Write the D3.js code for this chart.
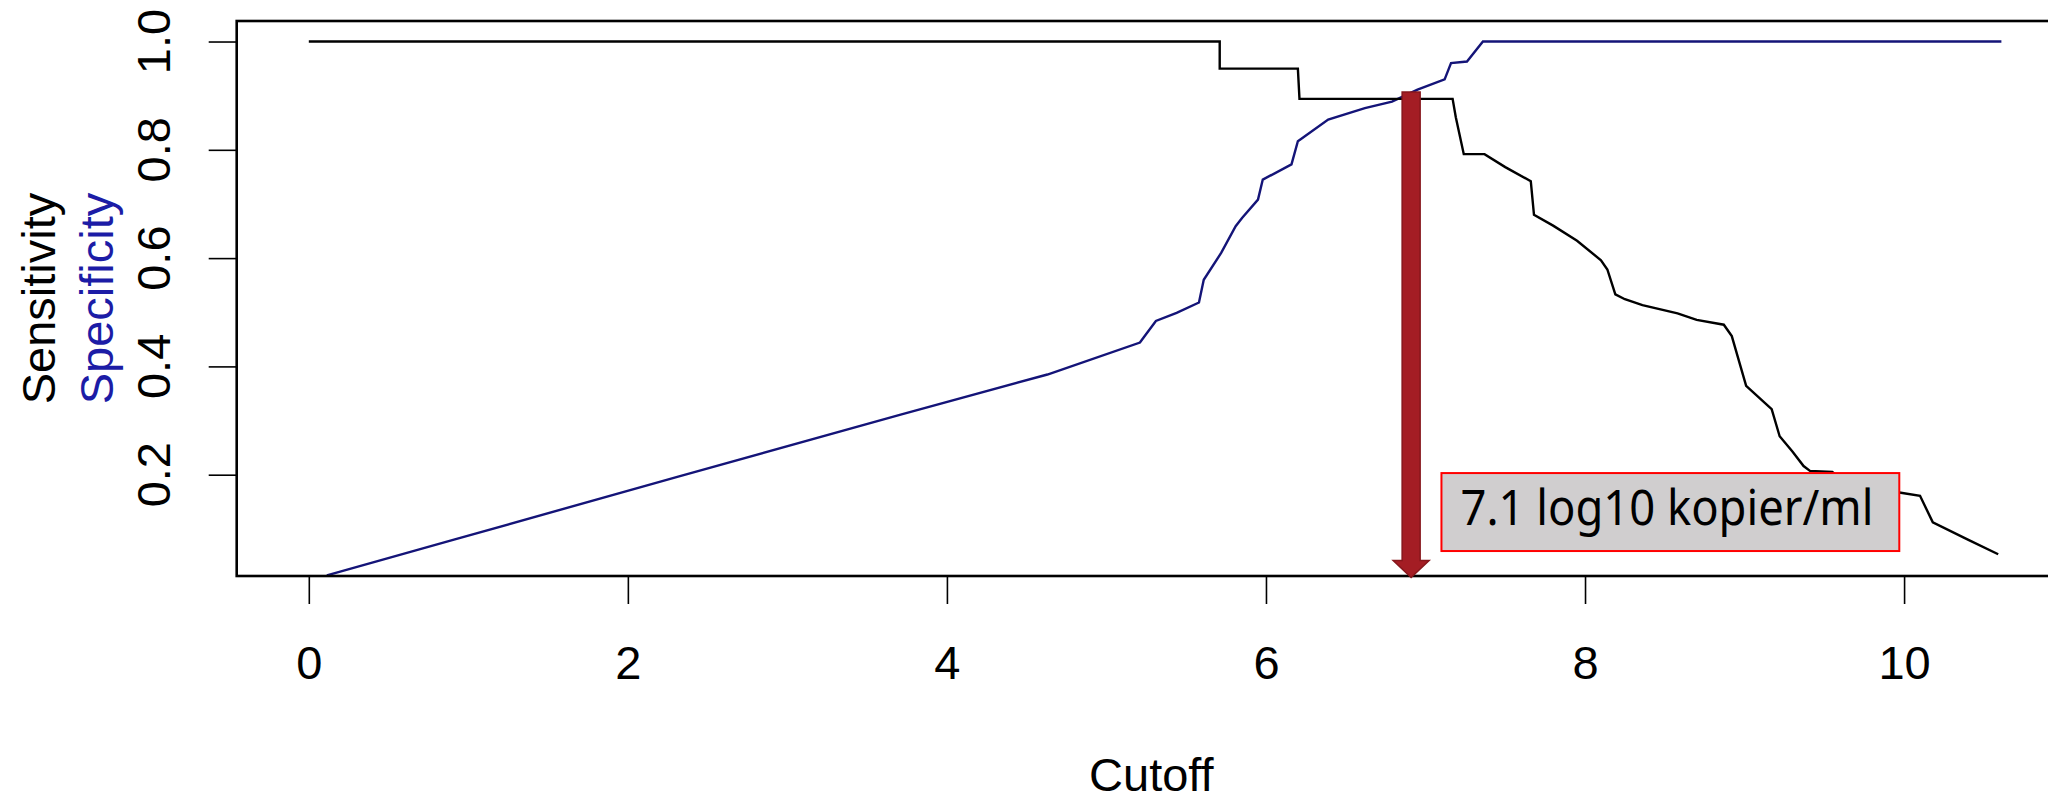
<!DOCTYPE html>
<html>
<head>
<meta charset="utf-8">
<script src="https://cdn.jsdelivr.net/npm/d3@7"></script>
<style>
  body { margin: 0; background: white; }
  svg { display: block; }
</style>
</head>
<body>
<div id="chart"></div>
<script>
// sensitivity / specificity vs cutoff (log10 copies/ml)

var xTicks = [0, 2, 4, 6, 8, 10];
var yTicks = [0.2, 0.4, 0.6, 0.8, 1.0];

// sensitivity (black step curve)
var sensX = [0, 5.71, 5.71, 6.20, 6.21, 7.17, 7.19, 7.24, 7.37, 7.50, 7.66, 7.68, 7.80, 7.95, 8.10, 8.14, 8.19, 8.25, 8.36, 8.58, 8.70, 8.87, 8.92, 9.01, 9.17, 9.22, 9.30, 9.37, 9.41, 9.55, 9.65, 9.97, 10.10, 10.18, 10.40, 10.59];
var sensY = [1.0, 1.0, 0.950, 0.950, 0.894, 0.894, 0.860, 0.792, 0.792, 0.768, 0.742, 0.680, 0.660, 0.632, 0.596, 0.579, 0.533, 0.524, 0.513, 0.498, 0.486, 0.477, 0.456, 0.364, 0.321, 0.271, 0.243, 0.216, 0.207, 0.205, 0.180, 0.167, 0.161, 0.112, 0.080, 0.053];

// specificity (blue curve)
var specX = [0.113, 0.91, 2.31, 3.71, 4.63, 5.21, 5.24, 5.31, 5.44, 5.58, 5.61, 5.72, 5.81, 5.85, 5.95, 5.98, 6.16, 6.20, 6.39, 6.62, 6.79, 6.95, 7.12, 7.16, 7.26, 7.36, 10.61];
var specY = [0.014, 0.080, 0.196, 0.311, 0.385, 0.444, 0.456, 0.484, 0.499, 0.518, 0.560, 0.610, 0.659, 0.674, 0.708, 0.745, 0.773, 0.816, 0.856, 0.877, 0.889, 0.911, 0.930, 0.960, 0.963, 1.0, 1.0];

// annotation
var cutoffArrow = 6.91;
var cutoffLabel = "7.1 log10 kopier/ml";

var W = 2048, H = 802;
var svg = d3.select("#chart").append("svg").attr("width", W).attr("height", H);
svg.append("rect").attr("width", W).attr("height", H).attr("fill", "white");

var x = d3.scaleLinear().domain([-0.452, 11.015]).range([236.7, 2066]);
var y = d3.scaleLinear().domain([0.0129, 1.0379]).range([576, 21]);

var font = "'Liberation Sans', Arial, sans-serif";

// curves
var line = d3.line().x(function(d){ return x(d[0]); }).y(function(d){ return y(d[1]); });

svg.append("path")
  .datum(specX.map(function(v, i){ return [v, specY[i]]; }))
  .attr("d", line).attr("fill", "none")
  .attr("stroke", "#141478").attr("stroke-width", 2.4);

svg.append("path")
  .datum(sensX.map(function(v, i){ return [v, sensY[i]]; }))
  .attr("d", line).attr("fill", "none")
  .attr("stroke", "black").attr("stroke-width", 2.4);

// plot box (right edge falls outside the picture)
svg.append("rect")
  .attr("x", x.range()[0]).attr("y", y.range()[1])
  .attr("width", x.range()[1] - x.range()[0]).attr("height", y.range()[0] - y.range()[1])
  .attr("fill", "none").attr("stroke", "black").attr("stroke-width", 2.6);

// x axis
var gx = svg.append("g").attr("transform", "translate(0," + y.range()[0] + ")")
  .call(d3.axisBottom(x).tickValues(xTicks).tickSize(28).tickPadding(42).tickFormat(d3.format("d")));
gx.select(".domain").remove();
gx.selectAll(".tick line").attr("stroke", "black").attr("stroke-width", 1.6);
gx.selectAll(".tick text").attr("fill", "black").style("font-family", font).style("font-size", "47px");

svg.append("text").attr("x", (x.range()[0] + x.range()[1]) / 2).attr("y", 791)
  .attr("text-anchor", "middle").style("font-family", font).style("font-size", "47px")
  .text("Cutoff");

// y axis
var gy = svg.append("g").attr("transform", "translate(" + x.range()[0] + ",0)")
  .call(d3.axisLeft(y).tickValues(yTicks).tickSize(28).tickFormat(""));
gy.select(".domain").remove();
gy.selectAll(".tick line").attr("stroke", "black").attr("stroke-width", 1.6);

svg.selectAll(".ylab").data(yTicks).enter().append("text")
  .attr("class", "ylab")
  .attr("transform", function(d){ return "translate(170," + y(d) + ")rotate(-90)"; })
  .attr("text-anchor", "middle").style("font-family", font).style("font-size", "47px")
  .text(function(d){ return d3.format(".1f")(d); });

var midY = (y.range()[0] + y.range()[1]) / 2;
svg.append("text").attr("transform", "translate(55," + midY + ")rotate(-90)")
  .attr("text-anchor", "middle").style("font-family", font).style("font-size", "47px")
  .attr("fill", "black").text("Sensitivity");
svg.append("text").attr("transform", "translate(113," + midY + ")rotate(-90)")
  .attr("text-anchor", "middle").style("font-family", font).style("font-size", "47px")
  .attr("fill", "#1c1ca6").text("Specificity");

// arrow at the chosen cutoff
var ax = x(cutoffArrow), aTop = y(0.907), aTip = y.range()[0] + 1.5;
var bw = 9, hw = 18, hh = 17;
svg.append("path")
  .attr("d", "M" + (ax - bw) + "," + aTop + "L" + (ax + bw) + "," + aTop +
             "L" + (ax + bw) + "," + (aTip - hh) + "L" + (ax + hw) + "," + (aTip - hh) +
             "L" + ax + "," + aTip + "L" + (ax - hw) + "," + (aTip - hh) +
             "L" + (ax - bw) + "," + (aTip - hh) + "Z")
  .attr("fill", "#a41d24").attr("stroke", "#86161b").attr("stroke-width", 1.5);

// label box
svg.append("rect")
  .attr("x", x(7.10)).attr("y", y(0.203))
  .attr("width", x(9.97) - x(7.10)).attr("height", y(0.059) - y(0.203))
  .attr("fill", "#d0cecf").attr("stroke", "#ff0000").attr("stroke-width", 2);

svg.append("text").attr("x", x(7.10) + 19).attr("y", 525)
  .style("font-family", "'Noto Sans', 'Open Sans', sans-serif").style("font-size", "50px")
  .attr("textLength", 413).attr("lengthAdjust", "spacingAndGlyphs")
  .attr("fill", "black").text(cutoffLabel);
</script>
</body>
</html>
